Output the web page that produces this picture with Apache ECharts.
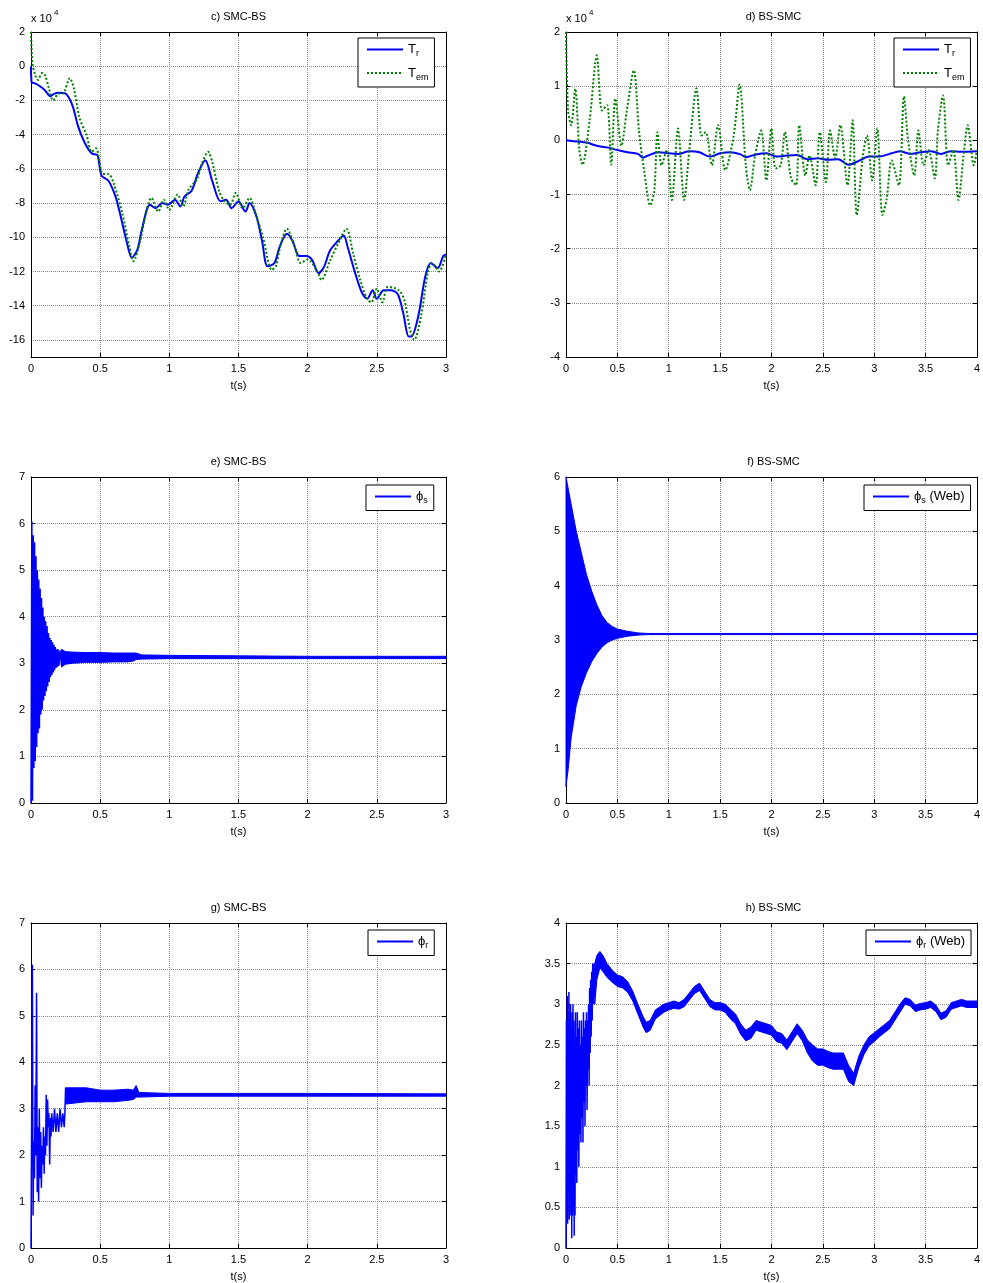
<!DOCTYPE html>
<html><head><meta charset="utf-8">
<script src="https://cdn.jsdelivr.net/npm/echarts@6/dist/echarts.min.js"></script>
<style>html,body{margin:0;padding:0;background:#fff}#c{width:983px;height:1283px}</style>
</head><body><div id="c"></div><script>
// ---------- DATA ----------
// c) SMC-BS torque (x 10^4)
const trC = [[0,0],[0.005,-0.95],[0.03,-1.0],[0.07,-1.2],[0.1,-1.4],[0.14,-1.75],[0.17,-1.6],[0.2,-1.55],[0.25,-1.6],[0.3,-2.3],[0.34,-3.5],[0.39,-4.5],[0.44,-5.1],[0.48,-5.2],[0.51,-6.4],[0.56,-6.7],[0.61,-7.6],[0.64,-8.5],[0.69,-10.2],[0.73,-11.2],[0.77,-10.7],[0.8,-9.6],[0.86,-8.1],[0.9,-8.3],[0.95,-8.0],[0.99,-8.1],[1.04,-7.8],[1.08,-8.2],[1.11,-7.6],[1.16,-7.3],[1.21,-6.2],[1.26,-5.5],[1.31,-6.7],[1.37,-7.9],[1.41,-7.8],[1.45,-8.3],[1.5,-7.9],[1.55,-8.5],[1.58,-8.0],[1.63,-8.8],[1.67,-10.2],[1.71,-11.7],[1.76,-11.5],[1.8,-10.5],[1.85,-9.8],[1.89,-10.2],[1.94,-11.1],[1.99,-11.1],[2.03,-11.3],[2.08,-12.1],[2.12,-11.7],[2.16,-10.8],[2.22,-10.2],[2.26,-9.9],[2.29,-10.6],[2.34,-12.0],[2.39,-13.2],[2.43,-13.6],[2.47,-13.1],[2.5,-13.6],[2.55,-13.1],[2.6,-13.1],[2.65,-13.3],[2.69,-14.4],[2.73,-15.8],[2.75,-15.8],[2.8,-14.6],[2.85,-12.3],[2.89,-11.5],[2.94,-11.8],[2.98,-11.1],[3.0,-11.0]];
const temC = [[0,2.0],[0.01,0.2],[0.03,-0.5],[0.05,-0.8],[0.08,-0.4],[0.1,-0.5],[0.13,-1.3],[0.16,-2.0],[0.2,-1.6],[0.23,-1.6],[0.28,-0.7],[0.31,-1.3],[0.35,-3.0],[0.4,-4.0],[0.44,-5.0],[0.47,-4.8],[0.52,-6.3],[0.56,-6.3],[0.6,-6.9],[0.66,-8.6],[0.71,-10.5],[0.74,-11.4],[0.79,-10.2],[0.83,-8.6],[0.87,-7.7],[0.92,-8.5],[0.96,-7.8],[1.0,-8.4],[1.06,-7.5],[1.1,-8.2],[1.14,-7.2],[1.2,-6.6],[1.24,-5.6],[1.28,-5.0],[1.31,-5.6],[1.36,-7.3],[1.4,-7.9],[1.44,-8.1],[1.48,-7.4],[1.53,-8.3],[1.58,-7.7],[1.62,-8.5],[1.68,-10.1],[1.74,-11.9],[1.77,-11.7],[1.8,-10.6],[1.85,-9.5],[1.9,-10.4],[1.95,-11.5],[2.0,-11.3],[2.07,-12.0],[2.1,-12.5],[2.16,-11.4],[2.23,-10.2],[2.28,-9.5],[2.33,-11.0],[2.38,-12.5],[2.43,-13.6],[2.46,-13.8],[2.5,-13.0],[2.54,-13.8],[2.58,-12.9],[2.66,-13.1],[2.7,-13.7],[2.74,-15.4],[2.77,-16.0],[2.82,-14.6],[2.87,-12.0],[2.9,-11.5],[2.95,-12.0],[3.0,-11.0]];
// d) BS-SMC torque (x 10^4)
const trD = [[0,0],[0.1,-0.02],[0.2,-0.04],[0.3,-0.1],[0.4,-0.13],[0.5,-0.18],[0.6,-0.22],[0.7,-0.25],[0.75,-0.32],[0.8,-0.28],[0.9,-0.22],[1.0,-0.24],[1.1,-0.25],[1.2,-0.2],[1.3,-0.22],[1.4,-0.3],[1.5,-0.24],[1.6,-0.22],[1.7,-0.26],[1.75,-0.31],[1.85,-0.26],[1.95,-0.24],[2.05,-0.3],[2.15,-0.28],[2.25,-0.27],[2.35,-0.35],[2.45,-0.33],[2.55,-0.36],[2.65,-0.35],[2.75,-0.45],[2.85,-0.38],[2.95,-0.3],[3.05,-0.3],[3.15,-0.25],[3.25,-0.2],[3.35,-0.25],[3.45,-0.22],[3.55,-0.2],[3.65,-0.25],[3.75,-0.2],[3.85,-0.21],[4.0,-0.2]];
const temD = [[0,2.0],[0.02,0.55],[0.05,0.28],[0.09,0.95],[0.13,-0.18],[0.16,-0.45],[0.23,0.37],[0.3,1.57],[0.35,0.55],[0.4,0.65],[0.44,-0.45],[0.48,0.77],[0.54,-0.1],[0.59,0.52],[0.66,1.29],[0.71,0.18],[0.76,-0.55],[0.82,-1.2],[0.86,-0.92],[0.89,0.15],[0.93,-0.46],[0.98,-0.18],[1.03,-1.1],[1.09,0.22],[1.15,-1.1],[1.2,-0.18],[1.27,0.96],[1.32,0.09],[1.36,0.15],[1.42,-0.46],[1.48,0.28],[1.55,-0.55],[1.63,0.06],[1.69,1.03],[1.75,-0.46],[1.79,-0.92],[1.84,-0.28],[1.9,0.18],[1.95,-0.74],[2.0,0.22],[2.04,-0.52],[2.09,-0.46],[2.13,0.15],[2.19,-0.7],[2.24,-0.83],[2.27,0.28],[2.33,-0.65],[2.37,-0.28],[2.43,-0.83],[2.47,0.15],[2.53,-0.77],[2.57,0.18],[2.62,-0.33],[2.67,0.28],[2.74,-0.83],[2.79,0.37],[2.83,-1.38],[2.89,-0.28],[2.93,0.09],[2.98,-0.74],[3.03,0.22],[3.08,-1.38],[3.12,-1.1],[3.17,-0.37],[3.24,-0.83],[3.29,0.81],[3.33,0.0],[3.39,-0.65],[3.43,0.18],[3.48,-0.46],[3.53,-0.18],[3.59,-0.7],[3.62,0.18],[3.67,0.83],[3.72,-0.46],[3.77,-0.18],[3.82,-1.1],[3.87,-0.28],[3.91,0.28],[3.97,-0.46],[4.0,-0.18]];
// e) SMC-BS stator flux
const spkE = [[0,0],[0.006,6.05],[0.011,0.05],[0.016,5.75],[0.021,0.75],[0.026,5.6],[0.031,0.9],[0.036,5.3],[0.041,1.2],[0.046,5.0],[0.051,1.5],[0.056,4.8],[0.061,1.6],[0.066,4.6],[0.071,1.9],[0.076,4.4],[0.081,2.0],[0.086,4.2],[0.091,2.2],[0.096,4.0],[0.101,2.3],[0.106,3.9],[0.111,2.4],[0.116,3.8],[0.121,2.5],[0.126,3.65],[0.131,2.6],[0.136,3.55],[0.141,2.7],[0.146,3.5],[0.151,2.75],[0.156,3.45],[0.161,2.8],[0.166,3.4],[0.171,2.85],[0.176,3.35],[0.181,2.9],[0.186,3.3],[0.191,2.92],[0.196,3.3],[0.201,2.95],[0.21,3.28],[0.22,2.96],[0.23,3.26]];
const bandE_t  = [0.22, 0.25, 0.3, 0.4, 0.5, 0.6, 0.7, 0.74, 0.76, 0.8, 1.0, 1.5, 2.0, 2.5, 3.0];
const bandE_lo = [2.92, 2.98, 3.0, 3.02, 3.02, 3.03, 3.03, 3.05, 3.08, 3.09, 3.1, 3.1, 3.1, 3.1, 3.1];
const bandE_hi = [3.3, 3.25, 3.24, 3.23, 3.23, 3.22, 3.22, 3.22, 3.22, 3.18, 3.17, 3.16, 3.15, 3.15, 3.15];
// f) BS-SMC stator flux
const bandF_t  = [0, 0.02, 0.05, 0.1, 0.15, 0.2, 0.25, 0.3, 0.35, 0.4, 0.45, 0.5, 0.6, 0.7, 0.8, 4.0];
const bandF_lo = [0.3, 0.6, 1.2, 1.8, 2.15, 2.4, 2.6, 2.75, 2.87, 2.95, 3.0, 3.03, 3.07, 3.09, 3.1, 3.1];
const bandF_hi = [6.0, 5.8, 5.5, 5.0, 4.6, 4.2, 3.9, 3.65, 3.45, 3.32, 3.25, 3.2, 3.16, 3.13, 3.12, 3.12];
// g) SMC-BS rotor flux
const spkG = [[0,0],[0.005,0],[0.01,6.1],[0.015,0.7],[0.02,2.3],[0.025,1.5],[0.03,3.5],[0.035,2.0],[0.04,5.5],[0.045,1.2],[0.05,2.6],[0.055,1.0],[0.06,3.0],[0.065,1.5],[0.07,2.5],[0.075,1.3],[0.08,2.2],[0.085,1.8],[0.09,2.6],[0.095,1.6],[0.1,2.4],[0.105,2.0],[0.11,3.3],[0.115,2.2],[0.12,3.2],[0.125,2.6],[0.13,2.9],[0.135,1.8],[0.14,2.8],[0.145,2.4],[0.15,2.9],[0.16,2.5],[0.17,3.0],[0.18,2.5],[0.19,2.9],[0.2,2.5],[0.21,3.0],[0.22,2.6],[0.23,2.9],[0.24,2.6],[0.245,2.9],[0.25,3.45]];
const bandG_t  = [0.25, 0.4, 0.5, 0.6, 0.7, 0.74, 0.76, 0.78, 1.0, 2.0, 3.0];
const bandG_lo = [3.1, 3.15, 3.15, 3.15, 3.18, 3.2, 3.25, 3.25, 3.27, 3.27, 3.27];
const bandG_hi = [3.45, 3.45, 3.4, 3.4, 3.42, 3.4, 3.5, 3.35, 3.33, 3.33, 3.32];
// h) BS-SMC rotor flux
const spkH = [[0,0],[0.004,2.8],[0.008,0.5],[0.012,3.1],[0.016,0.3],[0.02,2.6],[0.024,0.8],[0.028,3.15],[0.032,0.35],[0.036,2.9],[0.04,0.4],[0.044,3.0],[0.048,0.6],[0.052,2.7],[0.056,0.12],[0.06,2.9],[0.064,0.4],[0.068,3.0],[0.072,0.5],[0.076,2.8],[0.08,0.15],[0.084,2.5],[0.088,0.4],[0.092,2.9],[0.096,0.9],[0.1,2.6],[0.105,0.8],[0.11,2.9],[0.115,1.2],[0.12,2.7],[0.125,1.0],[0.13,2.8],[0.135,1.4],[0.14,2.5],[0.145,1.3],[0.15,2.8],[0.155,1.6],[0.16,2.6],[0.165,1.3],[0.17,2.9],[0.175,1.8],[0.18,2.7],[0.185,1.5],[0.19,2.8],[0.195,2.0],[0.2,2.9],[0.205,1.7],[0.21,2.8],[0.215,2.2],[0.22,3.0],[0.225,2.0],[0.23,3.2],[0.235,2.4],[0.24,3.3],[0.245,2.6],[0.25,3.4],[0.255,2.8],[0.26,3.5],[0.265,3.0],[0.27,3.5],[0.275,3.1],[0.28,3.45]];
const bandH_t  = [0.28,0.3,0.33,0.36,0.4,0.45,0.5,0.55,0.6,0.65,0.7,0.75,0.78,0.82,0.87,0.95,1.0,1.05,1.1,1.15,1.2,1.25,1.3,1.35,1.4,1.45,1.5,1.55,1.6,1.65,1.7,1.75,1.8,1.85,1.9,1.95,2.0,2.05,2.1,2.15,2.2,2.25,2.3,2.35,2.4,2.45,2.5,2.55,2.6,2.65,2.7,2.75,2.8,2.85,2.9,2.95,3.0,3.05,3.1,3.15,3.2,3.25,3.3,3.35,3.4,3.45,3.5,3.55,3.6,3.65,3.7,3.75,3.8,3.85,3.9,3.95,4.0];
const bandH_lo = [3.0,3.3,3.45,3.4,3.33,3.27,3.22,3.2,3.15,3.04,2.88,2.72,2.65,2.68,2.82,2.9,2.93,2.95,2.94,2.97,3.05,3.13,3.17,3.07,2.97,2.93,2.93,2.9,2.82,2.76,2.63,2.55,2.58,2.68,2.66,2.64,2.62,2.54,2.52,2.44,2.54,2.64,2.55,2.4,2.3,2.25,2.25,2.22,2.2,2.2,2.2,2.05,2.0,2.22,2.38,2.49,2.54,2.6,2.65,2.7,2.8,2.9,3.0,2.98,2.91,2.93,2.94,2.96,2.91,2.81,2.84,2.94,2.96,2.98,2.96,2.96,2.96];
const bandH_hi = [3.5,3.6,3.65,3.6,3.5,3.42,3.36,3.34,3.28,3.16,3.0,2.85,2.78,2.8,2.93,3.0,3.02,3.04,3.02,3.06,3.14,3.22,3.26,3.16,3.06,3.02,3.02,3.0,2.94,2.88,2.76,2.68,2.72,2.8,2.78,2.76,2.74,2.66,2.64,2.56,2.66,2.76,2.68,2.56,2.5,2.45,2.45,2.42,2.4,2.4,2.4,2.25,2.15,2.36,2.5,2.6,2.65,2.7,2.75,2.8,2.9,3.0,3.08,3.06,2.99,3.01,3.02,3.04,2.99,2.89,2.92,3.02,3.04,3.06,3.04,3.04,3.04];

const titles = ['c) SMC-BS','d) BS-SMC','e) SMC-BS','f) BS-SMC','g) SMC-BS','h) BS-SMC'];
const xMaxes = [3, 4, 3, 4, 3, 4];
const yMins  = [-17, -4, 0, 0, 0, 0];
const yMaxes = [2, 2, 7, 6, 7, 4];
const yIntervals = [1, 1, 1, 1, 1, 0.5];

// ---------- LAYOUT ----------
const FF = '"Liberation Sans", Arial, Helvetica, sans-serif';
const BLUE = '#0000ff', GREEN = '#008000';
const grids = [
  {left:31, top:32, width:415, height:325},
  {left:566, top:32, width:415, height:325},
  {left:31, top:477, width:415, height:326},
  {left:566, top:477, width:415, height:326},
  {left:31, top:923, width:415, height:326},
  {left:566, top:923, width:415, height:326}
];
const xAxes = [], yAxes = [];
grids.forEach((g, i) => {
  const base = {
    type:'value', gridIndex:i, min:0, max:xMaxes[i], interval:0.5,
    axisLine:{show:true, onZero:false, lineStyle:{color:'#000', width:1}},
    axisTick:{show:true, inside:true, length:4, lineStyle:{color:'#000'}},
  };
  xAxes.push(Object.assign({}, base, {
    position:'bottom',
    axisLabel:{color:'#000', fontSize:11, fontFamily:FF, margin:6},
    splitLine:{show:true, lineStyle:{color:'#8a8a8a', type:'dotted', width:1}},
    name:'t(s)', nameLocation:'middle', nameGap:23,
    nameTextStyle:{color:'#000', fontSize:11, fontFamily:FF}
  }));
  xAxes.push(Object.assign({}, base, {position:'top', axisLabel:{show:false}, splitLine:{show:false}}));
  const isC = (i === 0);
  const ybase = {
    type:'value', gridIndex:i, min:yMins[i], max:yMaxes[i], interval:yIntervals[i],
    axisLine:{show:true, onZero:false, lineStyle:{color:'#000', width:1}},
    axisTick:{show:!isC, inside:true, length:4, lineStyle:{color:'#000'}}
  };
  yAxes.push(Object.assign({}, ybase, {
    position:'left',
    axisLabel:{color:'#000', fontSize:11, fontFamily:FF, margin:6,
      formatter: v => isC ? (Math.round(v) % 2 === 0 ? String(v) : '') : String(v)},
    splitLine:{show:true, lineStyle:{color: isC ? ['rgba(0,0,0,0)','#8a8a8a'] : '#8a8a8a', type:'dotted', width:1}}
  }));
  yAxes.push(Object.assign({}, ybase, {position:'right', axisLabel:{show:false}, splitLine:{show:false}}));
});

function lineSeries(name, data, i, color, dotted, width, smooth) {
  return {
    type:'line', name, data, xAxisIndex:2*i, yAxisIndex:2*i, showSymbol:false, symbol:'none',
    smooth: smooth || false,
    lineStyle:{color, width, type: dotted ? 'dotted' : 'solid'}, itemStyle:{color},
    animation:false, z:3
  };
}
function bandSeries(name, ts, lo, hi, i) {
  return {
    type:'custom', name, xAxisIndex:2*i, yAxisIndex:2*i, animation:false, z:3,
    data:[[ts[0], lo[0]]],
    itemStyle:{color:BLUE},
    renderItem: (params, api) => {
      const pts = [];
      for (let k = 0; k < ts.length; k++) pts.push(api.coord([ts[k], hi[k]]));
      for (let k = ts.length - 1; k >= 0; k--) pts.push(api.coord([ts[k], lo[k]]));
      return {type:'polygon', shape:{points:pts}, style:{fill:BLUE, stroke:BLUE, lineWidth:1}};
    }
  };
}

const series = [
  lineSeries('Tr', trC, 0, BLUE, false, 2, 0.3),
  lineSeries('Tem', temC, 0, GREEN, true, 2, 0.3),
  lineSeries('Tr', trD, 1, BLUE, false, 2, 0.3),
  lineSeries('Tem', temD, 1, GREEN, true, 2, 0.3),
  lineSeries('ϕs', spkE, 2, BLUE, false, 1.5),
  bandSeries('ϕs_b', bandE_t, bandE_lo, bandE_hi, 2),
  bandSeries('ϕs_fb', bandF_t, bandF_lo, bandF_hi, 3),
  lineSeries('ϕs (Web)', [], 3, BLUE, false, 2),
  lineSeries('ϕr', spkG, 4, BLUE, false, 1.5),
  bandSeries('ϕr_b', bandG_t, bandG_lo, bandG_hi, 4),
  lineSeries('ϕr (Web)', spkH, 5, BLUE, false, 1.5),
  bandSeries('ϕr_hb', bandH_t, bandH_lo, bandH_hi, 5)
];

const rich = {
  m:{fontSize:13, fontFamily:FF, color:'#000'},
  s:{fontSize:9, fontFamily:FF, color:'#000', padding:[9,0,0,0]}
};
function fmt(name) {
  const map = {
    'Tr':'{m|T}{s|r}', 'Tem':'{m|T}{s|em}',
    'ϕs':'{m|ϕ}{s|s}', 'ϕs (Web)':'{m|ϕ}{s|s}{m| (Web)}',
    'ϕr':'{m|ϕ}{s|r}', 'ϕr (Web)':'{m|ϕ}{s|r}{m| (Web)}'
  };
  return map[name] || name;
}
function legend(left, top, data, itemGap) {
  return {
    left, top, orient:'vertical', data, selectedMode:false,
    backgroundColor:'#fff', borderColor:'#000', borderWidth:1, borderRadius:0,
    padding:[5,6,5,8], itemWidth:36, itemHeight:12, itemGap,
    itemStyle:{opacity:0}, lineStyle:{width:2},
    formatter: fmt, textStyle:{rich, fontFamily:FF}, z:10
  };
}
const legends = [
  legend(358, 38, ['Tr','Tem'], 8),
  legend(894, 38, ['Tr','Tem'], 8),
  legend(366, 485, ['ϕs'], 0),
  legend(864, 485, ['ϕs (Web)'], 0),
  legend(368, 930, ['ϕr'], 0),
  legend(866, 930, ['ϕr (Web)'], 0)
];

const graphic = [];
grids.forEach((g, i) => {
  graphic.push({type:'text', x:g.left + g.width/2, y:g.top - 15,
    style:{text:titles[i], font:'11px ' + FF, fill:'#000', align:'center', verticalAlign:'middle'}});
});
[grids[0], grids[1]].forEach(g => {
  graphic.push({type:'text', x:g.left, y:g.top - 13,
    style:{text:'x 10', font:'11px ' + FF, fill:'#000', align:'left', verticalAlign:'middle'}});
  graphic.push({type:'text', x:g.left + 23, y:g.top - 19,
    style:{text:'4', font:'8px ' + FF, fill:'#000', align:'left', verticalAlign:'middle'}});
});

const chart = echarts.init(document.getElementById('c'), null, {renderer:'canvas'});
chart.setOption({
  animation:false, backgroundColor:'#fff',
  grid: grids.map(g => Object.assign({containLabel:false}, g)),
  xAxis: xAxes, yAxis: yAxes, series, legend: legends, graphic
});
</script></body></html>
